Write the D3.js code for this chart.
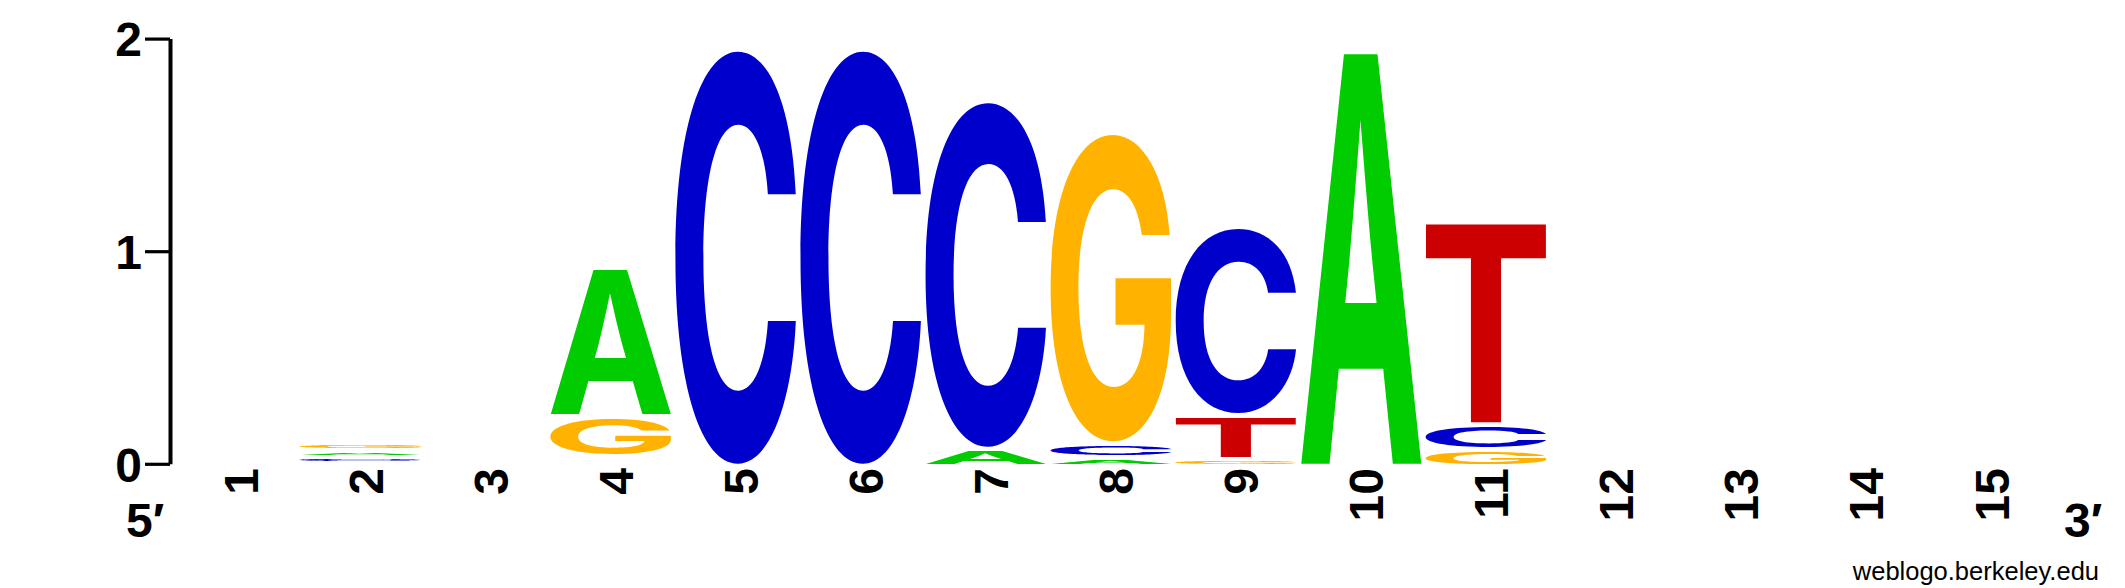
<!DOCTYPE html>
<html>
<head>
<meta charset="utf-8">
<script src="https://cdn.jsdelivr.net/npm/d3@7"></script>
<style>
  html, body { margin: 0; padding: 0; background: #fff; }
  svg { display: block; }
</style>
</head>
<body>
<div id="wrapper"></div>
<script>

// sequence positions and information content (bits) per base
const positions = [1, 2, 3, 4, 5, 6, 7, 8, 9, 10, 11, 12, 13, 14, 15]
const bitsA = [0.010, 0.030, 0.010, 0.702, 0, 0, 0.080, 0.041, 0, 1.955, 0, 0, 0, 0, 0]
const bitsC = [0.010, 0.028, 0.010, 0.022, 1.955, 1.955, 1.634, 0.065, 0.890, 0, 0.118, 0, 0, 0, 0]
const bitsG = [0.010, 0.035, 0.010, 0.189, 0, 0, 0, 1.459, 0.033, 0, 0.077, 0, 0, 0, 0]
const bitsT = [0.010, 0.015, 0.010, 0.022, 0, 0, 0, 0, 0.206, 0, 0.956, 0, 0, 0, 0]
const yTicks = [0, 1, 2]

const bases = ["A", "C", "G", "T"]
const baseColors = {
  A: "#00cc00",
  C: "#0000cc",
  G: "#ffb300",
  T: "#cc0000",
}

const bitsByBase = { A: bitsA, C: bitsC, G: bitsG, T: bitsT }

// build stacks, smallest letter at the bottom
const stacks = positions.map((pos, i) => {
  const letters = bases
    .map(b => ({ base: b, bits: bitsByBase[b][i] }))
    .filter(d => d.bits > 0)
    .sort((a, b) => a.bits - b.bits)
  let acc = 0
  letters.forEach(d => {
    d.y0 = acc
    acc += d.bits
    d.y1 = acc
    d.pos = pos
  })
  return letters
})

const fontFamily = "Liberation Sans"
const glyphFamily = "Inter"

// dimensions and framing
let dimensions = {
  width: 2125,
  height: 588,
  margin: {
    top: 38.6,
    left: 173,
    right: 76,
  },
  plotBottom: 463.8,
}

const wrapper = d3.select("#wrapper")
  .append("svg")
    .attr("width", dimensions.width)
    .attr("height", dimensions.height)

// scales
const xScale = d3.scaleBand()
  .domain(positions)
  .range([dimensions.margin.left, dimensions.width - dimensions.margin.right])
  .padding(0)

const yScale = d3.scaleLinear()
  .domain([0, 2])
  .range([dimensions.plotBottom, dimensions.margin.top])

// glyph ink boxes, measured once on a canvas
const glyphSize = 200
const ctx = document.createElement("canvas").getContext("2d")
ctx.font = `bold ${glyphSize}px "${glyphFamily}"`
const inkBox = {}
bases.forEach(b => {
  const m = ctx.measureText(b)
  inkBox[b] = {
    left: m.actualBoundingBoxLeft,
    right: m.actualBoundingBoxRight,
    ascent: m.actualBoundingBoxAscent,
    descent: m.actualBoundingBoxDescent,
  }
})

// draw letters
const stackMargin = 4.8
const inkGap = 4
const letters = wrapper.append("g")

letters.selectAll("text")
    .data(stacks.flat().filter(d => (yScale(d.y0) - yScale(d.y1)) - stackMargin > 0.4))
  .join("text")
    .attr("x", 0)
    .attr("y", 0)
    .attr("font-family", glyphFamily)
    .attr("font-weight", "bold")
    .attr("font-size", glyphSize)
    .attr("fill", d => baseColors[d.base])
    .attr("transform", d => {
      const box = inkBox[d.base]
      const w = xScale.bandwidth() - inkGap
      const h = (yScale(d.y0) - yScale(d.y1)) - stackMargin
      const sx = w / (box.left + box.right)
      const sy = h / (box.ascent + box.descent)
      const left = xScale(d.pos) + inkGap / 2
      const top = yScale(d.y0) - h
      return `translate(${left},${top}) scale(${sx},${sy}) translate(${box.left},${box.ascent})`
    })
    .text(d => d.base)

// y axis
const yAxisGenerator = d3.axisLeft()
  .scale(yScale)
  .tickValues(yTicks)
  .tickFormat(d3.format("d"))
  .tickSizeInner(25)
  .tickSizeOuter(0)
  .tickPadding(3)

const yAxis = wrapper.append("g")
    .attr("transform", "translate(170,0)")
    .call(yAxisGenerator)

yAxis.select(".domain")
    .attr("stroke", "#000")
    .attr("stroke-width", 4)
yAxis.selectAll(".tick line")
    .attr("stroke", "#000")
    .attr("stroke-width", 3.2)
yAxis.selectAll(".tick text")
    .attr("font-family", fontFamily)
    .attr("font-weight", "bold")
    .attr("font-size", 48)
    .attr("fill", "#000")
    .attr("dy", "0.36em")

// x axis, rotated position numbers
const xAxisGenerator = d3.axisBottom()
  .scale(xScale)
  .tickSize(0)

const xAxis = wrapper.append("g")
    .attr("transform", "translate(0,468)")
    .call(xAxisGenerator)

xAxis.select(".domain").remove()
xAxis.selectAll(".tick text")
    .attr("font-family", fontFamily)
    .attr("font-weight", "bold")
    .attr("font-size", 48)
    .attr("fill", "#000")
    .attr("x", 0)
    .attr("y", 0)
    .attr("dy", "0.46em")
    .attr("text-anchor", "end")
    .attr("transform", "rotate(-90)")

// 5' and 3' ends
const endLabels = wrapper.append("g")
    .attr("font-family", fontFamily)
    .attr("font-weight", "bold")
    .attr("font-size", 48)
endLabels.append("text")
    .attr("x", 126)
    .attr("y", 537)
    .text("5\u2032")
endLabels.append("text")
    .attr("x", 2064)
    .attr("y", 537)
    .text("3\u2032")

// credit
wrapper.append("text")
    .attr("x", 2099)
    .attr("y", 580)
    .attr("text-anchor", "end")
    .attr("font-family", fontFamily)
    .attr("font-size", 25.5)
    .text("weblogo.berkeley.edu")

</script>
</body>
</html>
